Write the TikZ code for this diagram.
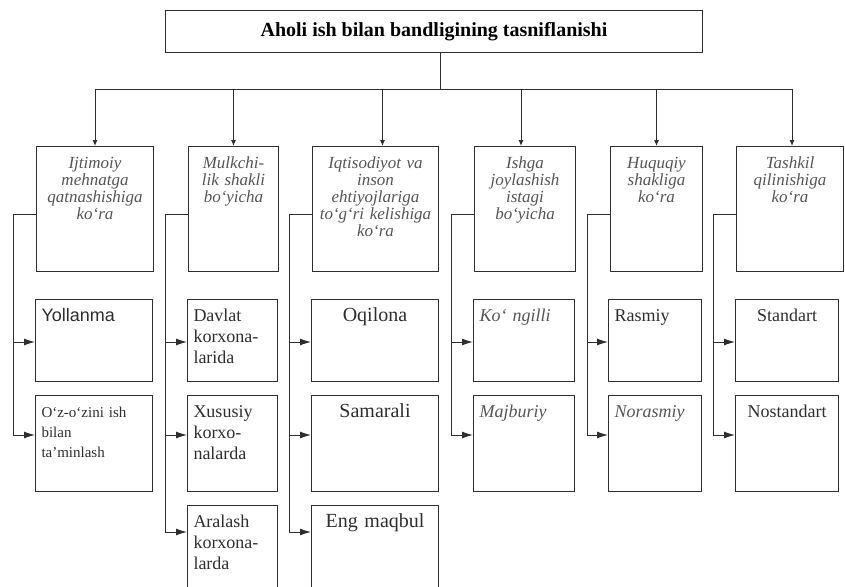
\documentclass[tikz,border=0pt]{standalone}
\usepackage{fontspec}
\setmainfont{Liberation Serif}
\newfontfamily\arialfont{Liberation Sans}
\usetikzlibrary{arrows.meta}
\definecolor{inkc}{HTML}{2E2E2E}
\definecolor{greyc}{HTML}{555555}
\newcommand{\cellbox}[7]{\pgfmathsetmacro\cwidth{#4-12}\pgfmathsetmacro\cdepth{#5-22}%
  \node[cell, #6, minimum width=#4pt, text width=\cwidth pt, text depth=\cdepth pt] (#1) at (#2,#3) {#7};}
\tikzset{
  line/.style={draw=inkc, line width=1pt},
  arr/.style={line, -{Latex[length=11pt,width=7pt]}},
  downarr/.style={line, -{Latex[length=6pt,width=5pt]}},
  cell/.style={draw=inkc, line width=1pt, anchor=north west, inner xsep=6pt, inner ysep=0pt, text height=22pt},
  titlebox/.style={draw=inkc, line width=1pt, anchor=north west, minimum width=537pt, minimum height=42pt,
    font=\fontsize{20}{22}\selectfont\bfseries},
  cattext/.style={align=center, text=greyc, font=\fontsize{17}{17}\selectfont\itshape},
  lefttext/.style={align=left, text=inkc, font=\fontsize{18}{21}\selectfont},
  midtext/.style={align=center, text=inkc, font=\fontsize{18}{21}\selectfont},
  bigtext/.style={align=center, text=inkc, font=\fontsize{20}{22}\selectfont},
  leftital/.style={align=left, text=greyc, font=\fontsize{18}{21}\selectfont\itshape},
  sanstext/.style={align=left, text=inkc, font=\fontsize{18}{21}\selectfont\arialfont},
  smalltext/.style={align=left, text=inkc, font=\fontsize{15}{20}\selectfont}
}

\begin{document}
\begin{tikzpicture}[x=1pt, y=-1pt]
        \useasboundingbox (0,0) rectangle (845,586);
        % title
        \node[titlebox] (title) at (165,10) {Aholi ish bilan bandligining tasniflanishi};
        % categories
        \cellbox{cat1}{36}{146}{117}{125}{cattext}{Ijtimoiy\\mehnatga\\qatnashishiga\\ko‘ra}
        \cellbox{cat2}{188}{146}{90}{125}{cattext}{Mulkchi-\\lik shakli\\bo‘yicha}
        \cellbox{cat3}{312}{146}{126}{125}{cattext}{Iqtisodiyot va\\inson\\ehtiyojlariga\\\mbox{to‘g‘ri kelishiga}\\ko‘ra}
        \cellbox{cat4}{474}{146}{101}{125}{cattext}{Ishga\\joylashish\\istagi\\bo‘yicha}
        \cellbox{cat5}{610}{146}{92}{125}{cattext}{Huquqiy\\shakliga\\ko‘ra}
        \cellbox{cat6}{736}{146}{107}{125}{cattext}{Tashkil\\qilinishiga\\ko‘ra}
        % row a
        \cellbox{k1a}{35}{299}{117}{82}{sanstext}{Yollanma}
        \cellbox{k2a}{187}{299}{90}{82}{lefttext}{Davlat\\korxona-\\larida}
        \cellbox{k3a}{311}{299}{127}{82}{bigtext}{Oqilona}
        \cellbox{k4a}{473}{299}{101}{82}{leftital}{Ko‘ ngilli}
        \cellbox{k5a}{608}{299}{93}{82}{lefttext}{Rasmiy}
        \cellbox{k6a}{735}{299}{103}{82}{midtext}{Standart}
        % row b
        \cellbox{k1b}{35}{395}{117}{96}{smalltext}{O‘z-o‘zini ish\\bilan\\ta’minlash}
        \cellbox{k2b}{187}{395}{90}{96}{lefttext}{Xususiy\\korxo-\\nalarda}
        \cellbox{k3b}{311}{395}{127}{96}{bigtext}{Samarali}
        \cellbox{k4b}{473}{395}{101}{96}{leftital}{Majburiy}
        \cellbox{k5b}{608}{395}{93}{96}{leftital}{Norasmiy}
        \cellbox{k6b}{735}{395}{103}{96}{midtext}{Nostandart}
        % row c
        \cellbox{k2c}{187}{505}{90}{86}{lefttext}{Aralash\\korxona-\\larda}
        \cellbox{k3c}{311}{505}{127}{86}{bigtext}{Eng maqbul}
        % bus
        \coordinate (bus) at (440,89);
        \coordinate (spine) at (0,214);
        \coordinate (rowa) at (0,342);
        \coordinate (rowb) at (0,435);
        \coordinate (rowc) at (0,532);
        \draw[line] (title.south -| bus) -- (bus);
        \draw[line] (cat1.north |- bus) -- ([xshift=2pt]cat6.north |- bus);
        \foreach \i/\dx in {1/0,2/0,3/7,4/-4,5/0,6/2}
          \draw[downarr] ([xshift=\dx pt]cat\i.north |- bus) -- ([xshift=\dx pt]cat\i.north);
        % branches
        \foreach \i/\last in {1/b,2/c,3/c,4/b,5/b,6/b}
          \draw[line] (cat\i.west |- spine) -- ++(-23,0) coordinate (s\i) -- (s\i |- row\last);
        \foreach \i/\r in {1/a,1/b,2/a,2/b,2/c,3/a,3/b,3/c,4/a,4/b,5/a,5/b,6/a,6/b}
          \draw[arr] (s\i |- row\r) -- (k\i\r.west |- row\r);
    \end{tikzpicture}
\end{document}
